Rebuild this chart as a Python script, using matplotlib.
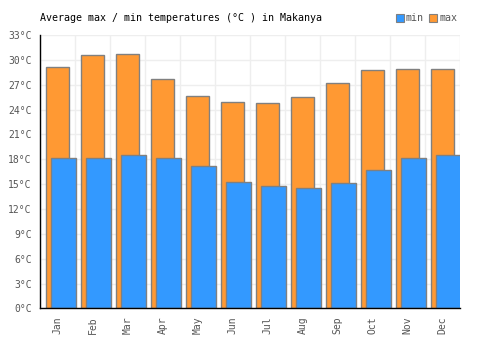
import matplotlib
matplotlib.use("Agg")
import matplotlib.pyplot as plt
import numpy as np
from matplotlib.patches import Patch

months = ["Jan", "Feb", "Mar", "Apr", "May", "Jun", "Jul", "Aug", "Sep", "Oct", "Nov", "Dec"]
max_temps = [29.1, 30.55, 30.7, 27.65, 25.6, 24.9, 24.8, 25.5, 27.2, 28.75, 28.9, 28.9]
min_temps = [18.1, 18.2, 18.5, 18.2, 17.2, 15.25, 14.8, 14.5, 15.1, 16.7, 18.1, 18.5]
yticks = list(range(0, 34, 3))

plt.rcParams['font.family'] = ['DejaVu Sans Mono']
fig = plt.figure(figsize=(5, 3.5), dpi=100)
ax = fig.add_axes([0.08, 0.119, 0.84, 0.781])

x = np.arange(len(months))
ax.bar(x, max_temps, width=0.68, color="#ff9933", edgecolor="#808080", linewidth=1, zorder=2, label="max")
ax.bar(x + 0.165, min_temps, width=0.7, color="#3399ff", edgecolor="#808080", linewidth=1, zorder=3, label="min")

ax.set_xlim(-0.5, 11.5)
ax.set_ylim(0, 33)
ax.set_yticks(yticks)
ax.set_yticklabels([f"{t}°C" for t in yticks])
ax.set_xticks(x)
ax.set_xticklabels(months, rotation=90)
ax.set_xticks(np.arange(-0.5, 12, 1), minor=True)
ax.grid(True, which="minor", axis="x", color="#eeeeee", linewidth=1, zorder=0)
ax.grid(True, which="major", axis="y", color="#eeeeee", linewidth=1, zorder=0)
ax.tick_params(axis="both", which="both", length=0, labelsize=7, labelcolor="#555555")
ax.tick_params(axis="y", pad=6)
ax.tick_params(axis="x", pad=6)
for s in ["top", "right"]:
    ax.spines[s].set_visible(False)
for s in ["left", "bottom"]:
    ax.spines[s].set_color("black")
    ax.spines[s].set_linewidth(1)
    ax.spines[s].set_zorder(4)

fig.text(0.08, 0.948, "Average max / min temperatures (°C ) in Makanya", fontsize=7.2, color="black", va="center", ha="left")

handles = [Patch(facecolor="#3399ff", edgecolor="#808080", linewidth=0.8),
           Patch(facecolor="#ff9933", edgecolor="#808080", linewidth=0.8)]
leg = fig.legend(handles, ["min", "max"], loc="center right", bbox_to_anchor=(0.915, 0.948), ncol=2,
                 frameon=False, handlelength=0.8, handleheight=0.8, handletextpad=0.25, columnspacing=0.5,
                 fontsize=7.2, borderpad=0, borderaxespad=0)
for t in leg.get_texts():
    t.set_color("#555555")

fig.savefig("out.png", dpi=100)
